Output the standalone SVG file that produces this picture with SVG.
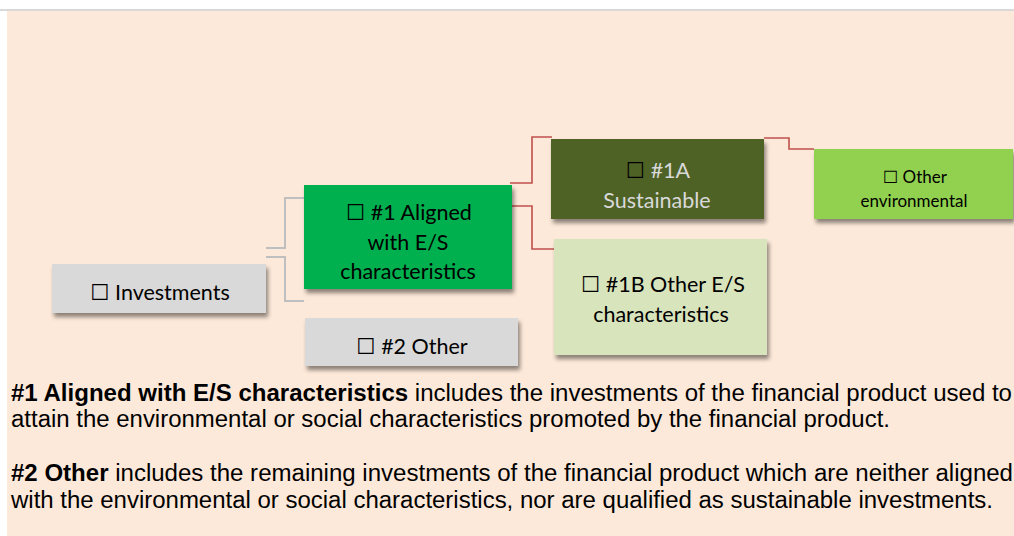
<svg xmlns="http://www.w3.org/2000/svg" width="1014" height="536" viewBox="0 0 1014 536">
<defs>
<filter id="sh" x="-10%" y="-10%" width="130%" height="140%">
<feDropShadow dx="2" dy="4" stdDeviation="2" flood-color="#000" flood-opacity="0.45"/>
</filter>
</defs>
<style>
.box{filter:url(#sh);}
.lbl{font-family:Lato,"DejaVu Sans",sans-serif;font-size:21.5px;fill:#000;text-anchor:middle;}
.sm{font-size:17px;}
.gc{fill:none;stroke:#BFBFBF;stroke-width:2;}
.rc{fill:none;stroke:#C0504D;stroke-width:1.6;}
.para{font-family:"Liberation Sans",Arial,sans-serif;font-size:23.5px;fill:#000;}
.b{font-weight:bold;}
</style>
<rect x="0" y="0" width="1014" height="536" fill="#FFFFFF"/>
<rect x="0" y="9" width="1014" height="2" fill="#D9D9D9"/>
<rect x="7" y="11" width="1007" height="525" fill="#FDE9D9"/>

<g id="connectors">
<polyline class="gc" points="266,248 285,248 285,198 304,198"/>
<polyline class="gc" points="266,257 285,257 285,301 304,301"/>
<polyline class="rc" points="510,183 532,183 532,137 552,137"/>
<polyline class="rc" points="510,206 532,206 532,249 554,249"/>
<polyline class="rc" points="764,138 789,138 789,149 814,149"/>
</g>

<g id="investments">
<rect class="box" x="52" y="264" width="214" height="49" fill="#D9D9D9"/>
<text class="lbl" x="160" y="300">☐ Investments</text>
</g>

<g id="aligned">
<rect class="box" x="304" y="185" width="208" height="104" fill="#00B050"/>
<text class="lbl" x="409" y="220">☐ #1 Aligned</text>
<text class="lbl" x="408" y="250">with E/S</text>
<text class="lbl" x="408" y="279">characteristics</text>
</g>

<g id="other2">
<rect class="box" x="305" y="318" width="213" height="48" fill="#D9D9D9"/>
<text class="lbl" x="412" y="354">☐ #2 Other</text>
</g>

<g id="sustainable">
<rect class="box" x="551" y="139" width="213" height="80" fill="#4F6228"/>
<text class="lbl" x="658" y="178"><tspan fill="#000">☐</tspan><tspan fill="#D9D9D9"> #1A</tspan></text>
<text class="lbl" x="657" y="208" style="fill:#D9D9D9">Sustainable</text>
</g>

<g id="other-es">
<rect class="box" x="554" y="239" width="213" height="116" fill="#D8E4BC"/>
<text class="lbl" x="663" y="292">☐ #1B Other E/S</text>
<text class="lbl" x="661" y="322">characteristics</text>
</g>

<g id="other-env">
<rect class="box" x="814" y="149" width="199" height="70" fill="#92D050"/>
<text class="lbl sm" x="915" y="183">☐ Other</text>
<text class="lbl sm" x="914" y="207">environmental</text>
</g>

<g id="legend">
<text class="para" x="11" y="401" textLength="1001" lengthAdjust="spacingAndGlyphs"><tspan class="b">#1 Aligned with E/S characteristics</tspan> includes the investments of the financial product used to</text>
<text class="para" x="11" y="427" textLength="879" lengthAdjust="spacingAndGlyphs">attain the environmental or social characteristics promoted by the financial product.</text>
<text class="para" x="11" y="481" textLength="1002" lengthAdjust="spacingAndGlyphs"><tspan class="b">#2 Other</tspan> includes the remaining investments of the financial product which are neither aligned</text>
<text class="para" x="11" y="508" textLength="982" lengthAdjust="spacingAndGlyphs">with the environmental or social characteristics, nor are qualified as sustainable investments.</text>
</g>
</svg>
